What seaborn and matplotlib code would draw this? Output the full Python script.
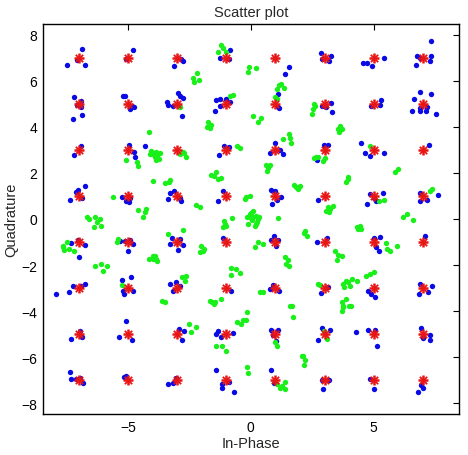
import numpy as np
import pandas as pd
import matplotlib
matplotlib.use("Agg")
import matplotlib.pyplot as plt
import seaborn as sns

# ideal 64-QAM levels (constellation grid)
levels = [-7, -5, -3, -1, 1, 3, 5, 7]

# received symbols around the grid (blue)
blue_i = [
    -6.87, -7.50, -6.76, -7.09,   -4.79, -5.09,   -2.76, -2.85, -3.12,   -1.26, -0.85, -0.88,
    1.56, 1.40,   2.85, 3.26, 3.19, 2.90,   5.41, 4.57, 4.73, 4.95,   7.34, 6.77, 7.34, 6.72, 7.29, 6.90,
    -7.19, -6.92, -6.92, -7.23, -6.87, -7.07,   -5.20, -5.13, -4.82, -4.92, -4.76,
    -2.96, -2.76, -2.87, -3.43, -3.37, -2.82, -3.16,   -1.40, -1.24, -1.45, -1.26, -0.83, -1.00,
    1.11, 1.15, 1.05,   2.88, 3.28, 3.32, 3.05,   5.30, 5.25, 4.87,
    6.88, 7.34, 6.66, 6.55, 6.88, 7.12, 7.53, 6.90, 7.15,
    -6.92, -7.19,   -4.95, -4.73, -4.31, -4.76,   -1.10, -0.88, -1.29,   0.98, 0.77, 1.31, 1.20,
    2.97, 3.15, 2.70,   4.48, 4.64, 4.84, 5.41,   7.26,
    -6.76, -7.03, -7.13, -7.37, -6.89,   -5.26, -5.09, -4.95, -4.93,
    -3.27, -3.13, -3.37, -2.86, -2.90,   -1.15, -1.33,   0.84, 1.00, 1.21, 1.05, 0.88,   2.74,
    4.84, 5.36, 5.09, 4.73, 5.00,   6.88, 7.15, 6.88, 7.60,
    -7.30, -7.03, -6.76, -6.99,   -5.33, -5.13, -4.92, -4.81, -4.99,
    -3.19, -3.30, -2.96, -2.76, -2.90,   -1.15,   0.94, 0.84, 1.10, 1.02,   2.70, 3.11,
    5.01, 5.25, 5.09, 5.22,   7.08,
    -7.91, -7.39, -7.23, -6.76, -6.90,   -5.26, -4.88, -5.22, -5.17, -4.79,
    -3.27, -3.05, -3.16, -2.90,   -0.79,   0.77, 1.15, 0.90,   2.84, 3.15,   4.77, 4.87, 5.05,
    6.88, 7.39, 7.22, 6.85,
    -7.30, -6.96, -6.89,   -5.06, -5.36, -4.83,   -2.92, -2.71, -2.82,   -1.33, -1.42, -0.72, -1.23,
    0.84, 1.11, 1.02, 0.90,   2.88, 2.74, 3.24,   4.27, 4.77, 5.05, 5.14,   6.93, 7.29, 7.29, 7.00,
    -7.34, -7.30, -6.96, -6.82, -7.10,   -5.17, -5.08,   -3.37, -3.18, -3.05,
    -1.40, -1.19, -1.19, -0.68, -0.90,   0.84, 0.96,   2.88, 3.20, 2.92,   4.84, 5.01,
    6.81, 6.91, 6.99,
]
blue_q = [
    7.38, 6.70, 6.70, 6.90,   7.34, 6.94,   6.87, 6.92, 6.63,   7.00, 7.31, 6.94,
    6.58, 6.28,   7.19, 7.06, 6.84, 6.95,   7.00, 6.76, 6.76, 6.63,   7.74, 7.06, 7.06, 6.70, 6.84, 6.98,
    5.28, 5.14, 4.87, 4.35, 4.50, 4.95,   5.32, 5.35, 4.92, 4.77, 4.85,
    5.46, 5.24, 5.35, 5.09, 4.95, 4.46, 4.90,   5.17, 5.20, 4.70, 4.92, 5.06, 5.20,
    5.43, 4.80, 4.90,   4.92, 5.03, 4.66, 4.88,   5.15, 4.95, 4.92,
    5.50, 5.44, 5.21, 4.67, 4.82, 4.67, 4.56, 4.67, 4.85,
    3.16, 2.79,   3.21, 2.68, 3.16, 2.92,   3.15, 3.14, 2.78,   3.30, 2.86, 2.82, 3.00,
    3.21, 3.21, 2.57,   3.30, 2.86, 2.72, 2.86,   3.21,
    1.45, 1.27, 1.15, 0.84, 0.90,   0.94, 0.80, 0.75, 0.90,
    1.11, 1.23, 0.87, 0.77, 0.90,   1.23, 0.80,   1.27, 1.20, 0.94, 0.82, 0.65,   0.84,
    1.09, 1.11, 0.80, 0.65, 0.90,   1.13, 0.84, 0.78, 1.06,
    -1.04, -0.90, -1.13, -1.64,   -0.94, -0.94, -0.90, -1.09, -1.37,
    -0.84, -1.09, -1.33, -1.13, -0.88,   -0.84,   -0.75, -0.90, -0.90, -1.16,   -1.01, -0.84,
    -0.84, -0.80, -1.23, -1.37,   -0.75,
    -3.27, -3.15, -2.92, -2.82, -2.92,   -2.63, -2.53, -3.11, -3.26, -3.11,
    -2.82, -2.72, -3.11, -2.90,   -3.11,   -3.04, -3.11, -2.85,   -3.21, -2.97,   -3.11, -3.26, -3.40,
    -2.82, -2.89, -3.15, -3.26,
    -5.21, -4.85, -5.10,   -4.43, -5.14, -5.25,   -4.77, -4.85, -5.25,   -4.85, -4.99, -4.95, -5.10,
    -4.80, -4.80, -5.28, -5.05,   -4.75, -5.25, -4.82,   -4.89, -4.80, -4.80, -5.50,   -4.75, -5.03, -5.25, -5.15,
    -6.63, -6.94, -6.90, -7.12, -6.95,   -6.87, -6.83,   -7.16, -7.10, -6.90,
    -6.54, -7.16, -7.35, -7.50, -7.05,   -6.54, -7.10,   -6.97, -7.00, -7.38,   -6.92, -7.38,
    -7.50, -7.21, -7.35,
]

# second (green) set of received symbols
green_i = [
    -4.15, -4.05, -3.95, -3.85, -3.80, -3.90, -4.10, -3.75, -3.70, -3.98, -3.85,
    -5.06, -4.63, -4.59, -3.98, -3.50, -3.32, -3.28,
    -1.22, -1.33, -1.15, -1.02, -0.07, 0.20, -0.11, -2.35, -2.19, -2.10, -2.32,
    1.05, 1.21, 1.36, 1.15, -2.89, -2.95, -0.85, -0.72, 1.05, 1.00,
    0.09, 0.30, 0.41, -1.74, -1.78, -1.64, -1.67, 1.56, 1.59, 1.29, 1.63,
    -2.76, -2.70, -2.89, -2.62, -0.58, -0.45, 2.56, 2.51, 2.47, 2.60,
    3.62, 3.59, 3.70, 3.55, 2.67, 3.01, 2.56, 2.94, 2.75, 4.84,
    -5.60, -6.66, -6.58, -6.35, -6.15, -6.39, -6.08, -6.25,
    -4.59, -4.31, -4.27, -4.38,
    -7.50, -7.64, -7.60, -7.39, -7.20, -7.66, -5.40, -5.45,
    -4.15, -3.97, -3.83, -3.90, -3.98, -3.84, -6.35, -6.08, -6.01, -5.85, -5.26,
    0.61, 0.80, 0.64, 0.70, -1.64, -1.40, -1.33, -1.23, -1.50, 1.75, 1.93, 1.85,
    -2.24, -2.08, -0.18, -0.04, -0.24, -1.10, -0.99, -0.77, -1.13, -1.05,
    -0.15, 0.00, 0.10, 0.20, 0.30, 0.05, -0.10, 0.15, 0.25, 0.00, 0.10, -0.05, 0.35, 0.20,
    1.09, 2.20, 2.29, 2.15, -2.76, -3.37, 0.30, 0.50, 0.16,
    -2.01, -1.91, -2.08, -1.95, 1.38, 1.45, 1.56, 1.50,
    -0.79, -0.61, -0.79, -0.45, -2.82, -2.62, -2.69, -3.63, -3.50,
    -1.67, -1.51, -1.44, -1.60, -1.23, 0.37, 0.50, 1.66, 1.59, 1.72,
    5.86, 6.00, 3.96, 3.89, 3.95, 1.99, 3.15, 3.05, 3.24, 3.20, 3.35,
    5.22, 5.41, 7.39, 7.30, 6.20, 6.36, 6.61, 4.33, 4.45, 4.50, 4.38,
    3.42, 3.55, 3.49, 3.69, 5.49, 5.55, 5.66, 5.93, 2.74, 2.80,
    3.76, 3.89, 4.10, 4.03, 3.95, 3.80, 4.68, 4.84, 5.01, 4.33,
    3.69, 3.89, 3.76, 4.06, 3.76, 4.00, 3.70,
    -2.51, -2.24, -2.45, -1.40, -1.19, -0.99, -0.58, -0.38, -0.18, -0.15, -0.30,
    0.98, 1.05, 2.10, 2.20, 2.16, 2.13, -0.15, -0.11,
    1.05, 1.25, 1.38, 1.38, 1.20, 2.97, 3.10,
]
green_q = [
    3.78, 2.95, 2.85, 2.90, 2.75, 2.70, 2.80, 2.60, 2.85, 2.82, 2.55,
    2.57, 2.49, 2.31, 1.66, 1.55, 1.59, 1.70,
    7.55, 7.26, 7.41, 7.26, 6.58, 6.54, 6.39, 6.11, 6.34, 6.05, 5.93,
    5.64, 5.86, 5.67, 5.80, 4.85, 4.95, 5.35, 5.40, 5.21, 5.30,
    4.46, 4.20, 4.37, 4.22, 4.01, 4.08, 3.96, 3.69, 3.50, 3.47, 3.30,
    2.92, 2.85, 2.82, 2.68, 3.18, 3.07, 4.99, 4.77, 4.56, 4.90,
    4.05, 3.79, 3.90, 3.90, 2.68, 2.63, 2.63, 2.53, 2.70, 3.15,
    0.94, 0.10, 0.00, 0.07, 0.00, -0.36, -0.29, -0.15,
    0.39, 0.29, 0.43, 0.07,
    -1.01, -1.23, -1.33, -1.30, -1.37, -1.15, -0.87, -1.00,
    -1.74, -1.72, -1.81, -1.60, -1.59, -1.74, -2.05, -1.95, -2.24, -2.05, -2.86,
    2.34, 2.34, 2.10, 2.20, 1.91, 2.03, 1.74, 1.77, 1.85, 1.48, 1.30, 1.40,
    0.61, 0.54, 0.97, 1.01, 0.87, -0.07, -0.32, 0.03, -0.36, -0.20,
    0.10, 0.25, 0.35, 0.15, 0.00, -0.05, -0.20, -0.30, -0.15, 0.05, 0.10, 0.20, 0.10, -0.20,
    0.03, -0.51, -0.72, -0.62, -0.48, -0.65, -1.01, -1.09, -1.23,
    -1.19, -1.30, -1.45, -1.38, -1.66, -1.95, -2.03, -1.80,
    -2.14, -2.17, -2.43, -2.34, -2.53, -2.46, -2.68, -3.55, -3.60,
    -3.55, -3.69, -3.60, -3.62, -3.47, -3.15, -3.15, -3.76, -3.79, -4.27,
    2.05, 2.17, 1.81, 1.62, 1.72, 1.45, 0.51, 0.36, 0.43, 0.30, 0.55,
    0.80, 0.84, 1.30, 1.20, 0.07, 0.22, -0.03, -0.36, -0.30, -0.43, -0.45,
    -1.37, -1.56, -1.77, -1.59, -1.04, -1.30, -1.37, -1.19, -2.82, -2.88,
    -2.82, -2.68, -2.60, -2.89, -2.75, -2.95, -2.49, -2.39, -2.29, -2.68,
    -3.62, -3.47, -3.76, -3.76, -3.83, -3.79, -3.98,
    -4.56, -4.67, -4.89, -5.50, -5.50, -5.71, -4.46, -4.56, -4.37, -4.05, -4.40,
    -5.35, -5.50, -5.96, -6.10, -6.34, -5.96, -6.44, -6.68,
    -7.16, -7.26, -7.06, -7.38, -7.35, -4.85, -5.20,
]

const = pd.DataFrame([(i, q) for q in levels for i in levels], columns=["I", "Q"])
blue = pd.DataFrame({"I": blue_i, "Q": blue_q})
green = pd.DataFrame({"I": green_i, "Q": green_q})

sns.set_style("white")
plt.rcParams["font.family"] = ["Liberation Sans", "DejaVu Sans"]

fig = plt.figure(figsize=(4.68, 4.56), dpi=100)
ax = fig.add_axes([0.0912, 0.0899, 0.8895, 0.8553])

sns.scatterplot(data=blue, x="I", y="Q", color="#0a0ae6", s=15, linewidth=0, ax=ax)
sns.scatterplot(data=green, x="I", y="Q", color="#19f019", s=15, linewidth=0, ax=ax)
# constellation: plus on top of a thinner cross, like an asterisk
sns.scatterplot(data=const, x="I", y="Q", color="#e81515", marker="+", s=60,
                linewidth=1.8, ax=ax)
sns.scatterplot(data=const, x="I", y="Q", color="#e81515", marker="x", s=28,
                linewidth=1.3, ax=ax)

ax.set_xlim(-8.47, 8.47)
ax.set_ylim(-8.46, 8.46)
ax.set_xticks([-5, 0, 5])
ax.set_yticks(range(-8, 9, 2))
ax.tick_params(direction="in", length=4, width=0.8, top=True, right=True,
               labelsize=10, colors="black", pad=4)
for sp in ax.spines.values():
    sp.set_visible(True)
    sp.set_color("black")
    sp.set_linewidth(1.0)

ax.set_title("Scatter plot", fontsize=10.5, pad=6)
ax.set_xlabel("In-Phase", fontsize=10.5, labelpad=2)
ax.set_ylabel("Quadrature", fontsize=10.5, labelpad=2)

fig.savefig("out.png", dpi=100)
